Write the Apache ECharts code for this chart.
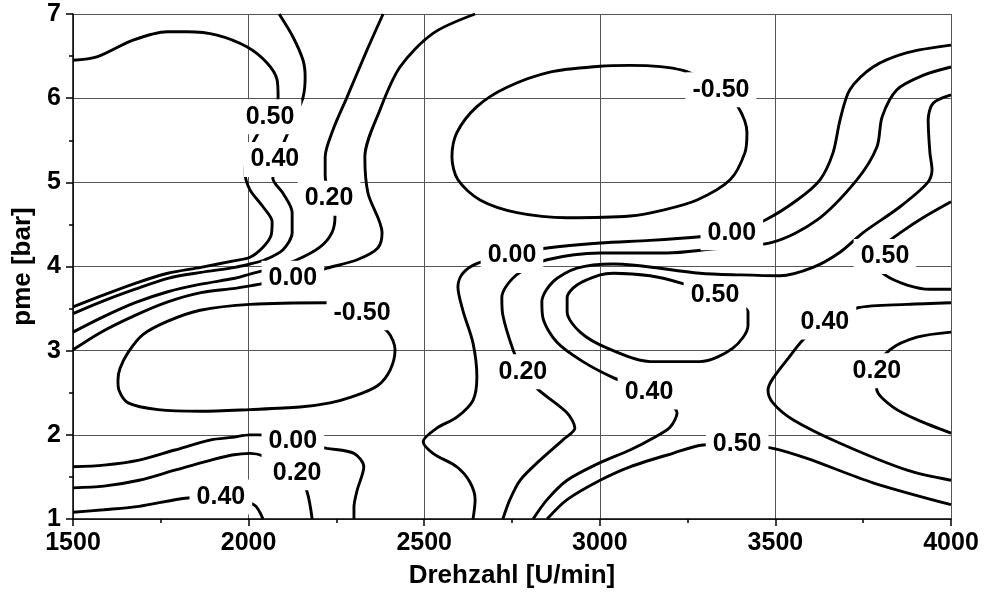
<!DOCTYPE html>
<html>
<head>
<meta charset="utf-8">
<script src="https://cdn.jsdelivr.net/npm/echarts@6.0.0/dist/echarts.min.js"></script>
<style>html,body{margin:0;padding:0;background:#fff;}#c{width:984px;height:592px;}</style>
</head>
<body>
<div id="c"></div>
<script>
// Axis ticks
const xTicks = [1500, 2000, 2500, 3000, 3500, 4000];
const yTicks = [1, 2, 3, 4, 5, 6, 7];

// Contour lines: [Drehzahl U/min, pme bar]
const c050_topLeft = [[1500,6.45],[1568,6.49],[1671,6.69],[1768,6.79],[1825,6.79],[1910,6.75],[1995,6.61],[2052,6.42],[2081,6.22],[2084,6.01],[2061,5.78],[2024,5.56],[1995,5.30],[1990,5.11],[2004,4.91],[2041,4.71],[2067,4.53],[2064,4.37],[2041,4.23],[2004,4.11],[1961,4.07],[1864,3.99],[1770,3.92],[1677,3.80],[1580,3.65],[1500,3.52]];
const c040_top = [[2087,7.00],[2126,6.73],[2155,6.45],[2161,6.25],[2155,6.01],[2132,5.78],[2109,5.56],[2084,5.30],[2069,5.05],[2098,4.87],[2124,4.64],[2124,4.40],[2098,4.20],[2047,4.08],[2004,4.03],[1961,3.99],[1864,3.93],[1770,3.86],[1677,3.73],[1580,3.58],[1500,3.44]];
const c020_top = [[2383,7.00],[2337,6.57],[2280,6.01],[2240,5.62],[2218,5.30],[2218,5.09],[2229,4.81],[2246,4.59],[2237,4.40],[2203,4.23],[2138,4.08],[2069,3.98],[2004,3.91],[1961,3.86],[1864,3.79],[1770,3.70],[1677,3.57],[1580,3.39],[1500,3.22]];
const c000_top = [[2645,7.00],[2525,6.77],[2431,6.37],[2374,5.86],[2331,5.30],[2340,4.87],[2380,4.40],[2368,4.22],[2309,4.08],[2223,3.98],[2126,3.86],[2032,3.79],[2004,3.77],[1961,3.74],[1864,3.69],[1770,3.58],[1677,3.42],[1580,3.22],[1500,3.01]];
const cm050_left = [[2323,3.45],[2397,3.22],[2417,3.01],[2403,2.77],[2366,2.58],[2294,2.45],[2232,2.38],[2146,2.33],[2004,2.30],[1862,2.28],[1742,2.30],[1657,2.38],[1631,2.53],[1628,2.65],[1634,2.79],[1657,2.98],[1699,3.19],[1770,3.35],[1862,3.48],[2004,3.55],[2220,3.57],[2323,3.45]];
const c000_bottomLeft = [[1500,1.62],[1588,1.64],[1688,1.70],[1790,1.82],[1893,1.94],[1953,1.97],[2004,2.00],[2030,2.00],[2126,1.92],[2223,1.84],[2300,1.78],[2328,1.62],[2309,1.34],[2300,1.14],[2300,1.00]];
const c020_bottomLeft = [[1500,1.37],[1588,1.39],[1688,1.46],[1790,1.58],[1893,1.70],[1953,1.76],[2004,1.78],[2041,1.75],[2138,1.55],[2166,1.33],[2181,1.00]];
const c040_bottomLeft = [[1500,1.08],[1588,1.11],[1688,1.15],[1827,1.25],[1921,1.26],[2015,1.17],[2041,1.00]];
const c000_main = [[2639,1.00],[2645,1.23],[2630,1.44],[2593,1.62],[2525,1.78],[2497,1.92],[2536,2.08],[2593,2.21],[2639,2.41],[2650,2.69],[2639,3.09],[2610,3.48],[2596,3.76],[2610,3.92],[2653,4.04],[2750,4.14],[2850,4.22],[3001,4.28],[3143,4.31],[3277,4.35],[3376,4.40],[3470,4.55],[3562,4.79],[3627,5.03],[3664,5.35],[3684,5.74],[3712,6.10],[3778,6.37],[3875,6.54],[4000,6.63]];
const c020_main = [[2724,1.00],[2744,1.23],[2773,1.46],[2830,1.70],[2895,1.94],[2929,2.08],[2907,2.26],[2824,2.54],[2781,2.75],[2753,3.01],[2724,3.42],[2721,3.63],[2736,3.78],[2773,3.93],[2850,4.08],[3001,4.16],[3191,4.16],[3305,4.20],[3493,4.29],[3618,4.55],[3732,5.03],[3789,5.42],[3804,5.78],[3846,6.10],[3920,6.27],[4000,6.37]];
const c040_main = [[2810,1.00],[2850,1.23],[2907,1.46],[3001,1.67],[3086,1.82],[3151,1.96],[3200,2.09],[3220,2.26],[3140,2.51],[3038,2.68],[2952,2.87],[2878,3.10],[2838,3.39],[2835,3.58],[2867,3.82],[2935,3.98],[3038,4.03],[3285,3.92],[3399,3.90],[3513,3.89],[3607,3.99],[3684,4.17],[3749,4.40],[3855,4.71],[3932,4.99],[3946,5.15],[3940,5.35],[3935,5.74],[3949,5.94],[4000,6.04]];
const c050_bottom = [[2850,1.00],[2907,1.23],[3001,1.46],[3086,1.62],[3208,1.78],[3294,1.88],[3391,1.89],[3493,1.84],[3590,1.72],[3778,1.43],[4000,1.17]];
const c050_inner = [[3328,3.66],[3234,3.80],[3143,3.89],[3038,3.92],[3001,3.90],[2935,3.78],[2907,3.63],[2907,3.46],[2944,3.22],[3021,3.03],[3143,2.87],[3285,2.87],[3379,3.03],[3422,3.30],[3422,3.46],[3328,3.66]];
const c050_right = [[4000,4.77],[3920,4.58],[3855,4.40],[3798,4.22],[3769,4.10],[3812,3.90],[3875,3.78],[3940,3.73],[4000,3.73]];
const c040_right = [[4000,3.57],[3875,3.55],[3735,3.51],[3641,3.34],[3579,3.13],[3533,2.89],[3490,2.65],[3479,2.53],[3493,2.38],[3550,2.18],[3684,1.90],[3875,1.58],[4000,1.46]];
const c020_right = [[4000,3.22],[3903,3.16],[3826,3.01],[3786,2.77],[3789,2.53],[3835,2.33],[3903,2.18],[4000,2.02]];
const cm050_top = [[3345,6.10],[3393,5.90],[3419,5.59],[3413,5.35],[3371,5.03],[3277,4.79],[3180,4.67],[3086,4.60],[2907,4.58],[2764,4.64],[2659,4.79],[2596,5.03],[2579,5.30],[2593,5.59],[2650,5.90],[2736,6.13],[2858,6.31],[3001,6.38],[3086,6.39],[3237,6.33],[3345,6.10]];

// Contour labels: [Drehzahl, pme, text]
const contourLabels = [
  [2061,5.78,'0.50'],[2075,5.27,'0.40'],[2229,4.81,'0.20'],[2126,3.86,'0.00'],[2323,3.45,'-0.50'],
  [2126,1.92,'0.00'],[2138,1.55,'0.20'],[1921,1.26,'0.40'],
  [2750,4.13,'0.00'],[2781,2.75,'0.20'],[3345,6.10,'-0.50'],[3376,4.40,'0.00'],
  [3328,3.66,'0.50'],[3140,2.51,'0.40'],[3391,1.89,'0.50'],
  [3812,4.12,'0.50'],[3641,3.34,'0.40'],[3789,2.76,'0.20']
];

const contours = [c050_topLeft,c040_top,c020_top,c000_top,cm050_left,c000_bottomLeft,c020_bottomLeft,c040_bottomLeft,
  c000_main,c020_main,c040_main,c050_bottom,c050_inner,c050_right,c040_right,c020_right,cm050_top];

const F = "'Liberation Sans', Arial, Helvetica, sans-serif";
const chart = echarts.init(document.getElementById('c'), null, {renderer:'canvas'});

const series = contours.map(d => ({
  type:'line', data:d, symbol:'none', showSymbol:false, smooth:0.3, silent:true,
  lineStyle:{color:'#000', width:2.9}, z:3, animation:false
}));
series.push({
  type:'custom', silent:true, z:10, animation:false,
  data: contourLabels.map(d => [d[0], d[1]]),
  renderItem: function (params, api) {
    const p = api.coord([api.value(0), api.value(1)]);
    return {
      type:'text', x:p[0], y:p[1], z2:100,
      style:{
        text: contourLabels[params.dataIndex][2],
        font: "bold 25px " + F,
        fill:'#000', align:'center', verticalAlign:'middle',
        backgroundColor:'#fff', padding:[5,7]
      }
    };
  }
});

const axisCommon = {
  type:'value',
  axisLine:{show:true, onZero:false, lineStyle:{color:'#000', width:1.5}},
  axisTick:{show:true, length:7, lineStyle:{color:'#000', width:1.5}},
  minorTick:{show:true, splitNumber:2, length:4, lineStyle:{color:'#000', width:1.5}},
  splitLine:{show:true, lineStyle:{color:'#555', width:1}},
  nameLocation:'middle',
  nameTextStyle:{color:'#000', fontSize:26, fontWeight:'bold', fontFamily:F}
};

chart.setOption({
  animation:false,
  backgroundColor:'#fff',
  grid:{left:73, right:33, top:14, bottom:73, containLabel:false, outerBoundsMode:'none'},
  xAxis:Object.assign({}, axisCommon, {
    min:xTicks[0], max:xTicks[xTicks.length-1], interval:xTicks[1]-xTicks[0],
    name:'Drehzahl [U/min]', nameGap:44,
    axisLabel:{color:'#000', fontSize:25, fontWeight:'bold', fontFamily:F, margin:12, formatter: v => String(v)}
  }),
  yAxis:Object.assign({}, axisCommon, {
    min:yTicks[0], max:yTicks[yTicks.length-1], interval:yTicks[1]-yTicks[0],
    name:'pme [bar]', nameGap:36,
    axisLabel:{color:'#000', fontSize:25, fontWeight:'bold', fontFamily:F, margin:12, formatter: v => String(v)}
  }),
  series:series
});
</script>
</body>
</html>
